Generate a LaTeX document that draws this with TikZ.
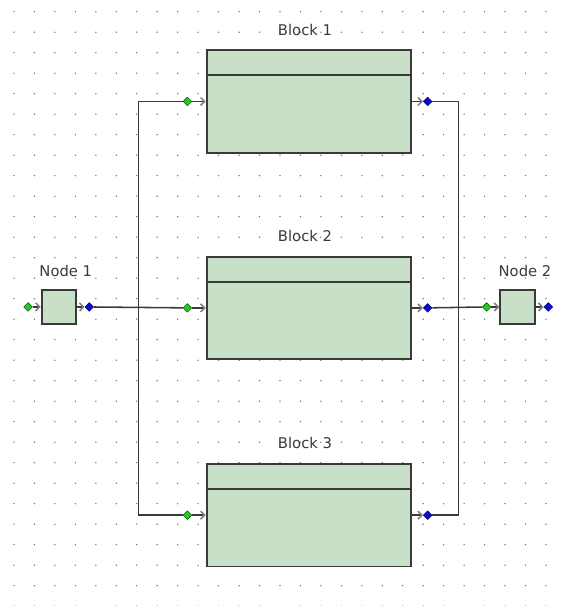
\documentclass[tikz,border=0pt]{standalone}
\usepackage{fontspec}
\setmainfont{DejaVu Sans}
\usepackage{tikz}
\usetikzlibrary{arrows.meta,positioning,shapes.geometric}
\definecolor{blockfill}{HTML}{C8DFC8}
\definecolor{edgec}{HTML}{3A3A3A}
\definecolor{inc}{HTML}{22CC22}
\definecolor{outc}{HTML}{0A0ADC}
\definecolor{dotc}{HTML}{707070}
\tikzset{
  blockbox/.style={draw=edgec,line width=1.3pt,fill=blockfill,minimum width=5.115cm,minimum height=2.5625cm,inner sep=0pt,anchor=north west},
  nodebox/.style={draw=edgec,line width=1.3pt,fill=blockfill,minimum width=0.86cm,minimum height=0.85cm,inner sep=0pt},
  inport/.style={diamond,draw=inc!45!black,fill=inc,minimum size=0.22cm,inner sep=0pt,line width=0.4pt},
  outport/.style={diamond,draw=outc!45!black,fill=outc,minimum size=0.22cm,inner sep=0pt,line width=0.4pt},
  wire/.style={edgec,line width=1.1pt},
  feed/.style={wire,-{Straight Barb[length=1mm,width=2mm,color=gray]}},
  divline/.style={edgec,line width=1.3pt},
  lbl/.style={font=\fontsize{10.5}{12}\selectfont,text=edgec,inner sep=0pt}
}
\begin{document}
\begin{tikzpicture}[x=0.025cm,y=-0.025cm]
\useasboundingbox (0,0) rectangle (560,606);
% dot grid
\foreach \i in {0,...,26}
  \foreach \j in {0,...,29}
    \fill[dotc] ({14+20.46*\i},{11.7+20.5*\j}) circle (0.55pt);
% blocks
\node[blockbox] (b1) at (205.7,49.3) {};
\node[blockbox] (b2) at (205.7,255.7) {};
\node[blockbox] (b3) at (205.7,463) {};
\foreach \b in {b1,b2,b3}
  \draw[divline] ([yshift=-0.65cm]\b.north west) -- ([yshift=-0.65cm]\b.north east);
\node[lbl] (lb1) at (305,30) {Block 1};
\node[lbl] (lb2) at (305,236) {Block 2};
\node[lbl] (lb3) at (305,443) {Block 3};
% source and sink
\node[nodebox] (n1) at (58.85,306.95) {};
\node[nodebox] (n2) at (517.5,306.95) {};
\node[lbl] (ln1) at (65.8,270.7) {Node 1};
\node[lbl] (ln2) at (525,270.7) {Node 2};
% ports
\node[inport,left=0.34cm of b1] (b1in) {};
\node[inport,left=0.34cm of b2] (b2in) {};
\node[inport,left=0.34cm of b3] (b3in) {};
\node[outport,right=0.27cm of b1] (b1out) {};
\node[outport,right=0.27cm of b2] (b2out) {};
\node[outport,right=0.27cm of b3] (b3out) {};
\node[inport,left=0.2cm of n1] (n1in) {};
\node[outport,right=0.19cm of n1] (n1out) {};
\node[inport,left=0.2cm of n2] (n2in) {};
\node[outport,right=0.2cm of n2] (n2out) {};
\coordinate (splitL) at (138.3,306.95);
\coordinate (splitR) at (458.7,306.95);
% wires
\draw[feed] (n1in) -- (n1);
\draw[feed] (n1) -- (n1out);
\draw[wire] (n1out) -- (b2in);
\draw[wire] (b1in) -| (splitL) |- (b3in);
\foreach \b in {b1,b2,b3} {
  \draw[feed] (\b in) -- (\b);
  \draw[feed] (\b) -- (\b out);
}
\draw[wire] (b1out) -| (splitR) |- (b3out);
\draw[wire] (b2out) -- (n2in);
\draw[feed] (n2in) -- (n2);
\draw[feed] (n2) -- (n2out);
\end{tikzpicture}
\end{document}
